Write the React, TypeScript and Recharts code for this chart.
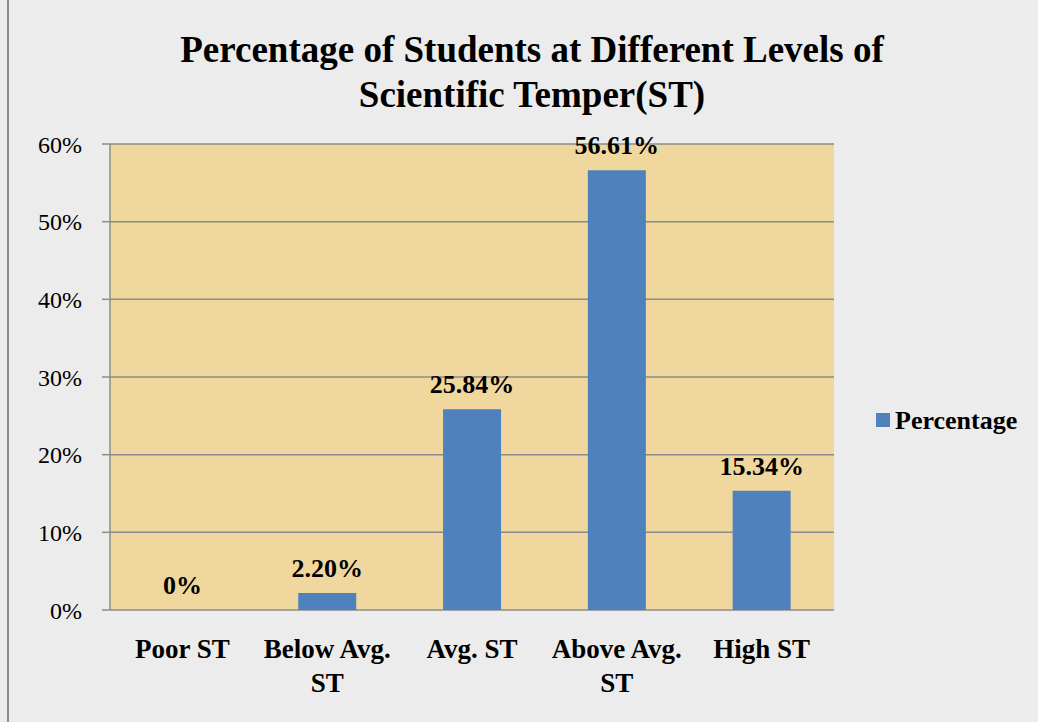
import React from "react";
import { BarChart, Bar, XAxis, YAxis, CartesianGrid, LabelList, Legend } from "recharts";

const categories = ["Poor ST", "Below Avg. ST", "Avg. ST", "Above Avg. ST", "High ST"];
const categoryLines = [["Poor ST"], ["Below Avg.", "ST"], ["Avg. ST"], ["Above Avg.", "ST"], ["High ST"]];
const percentages = [0, 2.2, 25.84, 56.61, 15.34];
const yTicks = [0, 10, 20, 30, 40, 50, 60];
const boundaryTicks = [0, 1, 2, 3, 4, 5];
const seriesName = "Percentage";

const data = categories.map((c, i) => ({ name: c, idx: i, value: percentages[i] }));

const FONT = "'Liberation Serif', 'Times New Roman', serif";
const GRAY = "#8c8c8c";
const BLUE = "#4f81bd";

const CatTick = (props: any) => {
  const { x, y, payload, index } = props;
  const lines = categoryLines[index] || [payload.value];
  return (
    <g>
      {lines.map((ln: string, i: number) => (
        <text
          key={i}
          x={x}
          y={y + 40 + i * 34}
          textAnchor="middle"
          fontFamily={FONT}
          fontWeight="bold"
          fontSize={27}
          fill="#000"
        >
          {ln}
        </text>
      ))}
    </g>
  );
};

const LegendContent = () => (
  <div style={{ position: "relative", width: 160, height: 30, fontFamily: FONT, fontWeight: "bold", fontSize: 26, color: "#000" }}>
    <span style={{ position: "absolute", left: 0, top: 5, width: 14, height: 14, background: BLUE }} />
    <span style={{ position: "absolute", left: 19, top: -2, lineHeight: "30px", whiteSpace: "nowrap" }}>{seriesName}</span>
  </div>
);

export default function App() {
  return (
    <div style={{ position: "absolute", left: 0, top: 0, width: 1038, height: 722, background: "#ececec", overflow: "hidden" }}>
      <div style={{ position: "absolute", left: 7, top: 0, width: 2, height: 722, background: GRAY }} />
      <div
        style={{
          position: "absolute",
          left: 0,
          top: 27,
          width: 1064,
          textAlign: "center",
          fontFamily: FONT,
          fontWeight: "bold",
          fontSize: 37,
          lineHeight: "45px",
          color: "#000",
          whiteSpace: "nowrap",
        }}
      >
        Percentage of Students at Different Levels of
        <br />
        Scientific Temper(ST)
      </div>
      <div style={{ position: "absolute", left: 0, top: 0 }}>
        <BarChart
          width={1038}
          height={722}
          data={data}
          margin={{ top: 144, right: 204, bottom: 32, left: 10 }}
          barCategoryGap="30%"
        >
          <CartesianGrid horizontal vertical={false} stroke={GRAY} strokeWidth={1.5} fill="#efd79d" fillOpacity={1} />
          <XAxis
            xAxisId="bounds"
            type="number"
            dataKey="idx"
            domain={[0, 5]}
            ticks={boundaryTicks}
            tick={false}
            tickSize={8}
            tickLine={{ stroke: GRAY, strokeWidth: 1.5 }}
            axisLine={{ stroke: GRAY, strokeWidth: 1.5 }}
            height={0}
          />
          <XAxis
            xAxisId="cat"
            dataKey="name"
            type="category"
            tick={<CatTick />}
            tickLine={false}
            axisLine={false}
            interval={0}
            height={80}
          />
          <YAxis
            domain={[0, 60]}
            ticks={yTicks}
            tickFormatter={(v: number) => `${v}%`}
            width={100}
            tickSize={8}
            tickMargin={20}
            tickLine={{ stroke: GRAY, strokeWidth: 1.5 }}
            axisLine={{ stroke: GRAY, strokeWidth: 1.5 }}
            tick={{ fontFamily: FONT, fontSize: 24, fill: "#000" }}
          />
          <Legend
            layout="vertical"
            verticalAlign="middle"
            align="center"
            content={<LegendContent />}
            wrapperStyle={{ position: "absolute", left: 876, top: 408, width: 160, height: 30 }}
          />
          <Bar xAxisId="cat" dataKey="value" name={seriesName} fill={BLUE} minPointSize={0.01} isAnimationActive={false}>
            <LabelList
              dataKey="value"
              position="top"
              offset={16}
              formatter={(v: number) => (v === 0 ? "0%" : `${v.toFixed(2)}%`)}
              style={{ fontFamily: FONT, fontWeight: "bold", fontSize: 26, fill: "#000" }}
            />
          </Bar>
        </BarChart>
      </div>
    </div>
  );
}
